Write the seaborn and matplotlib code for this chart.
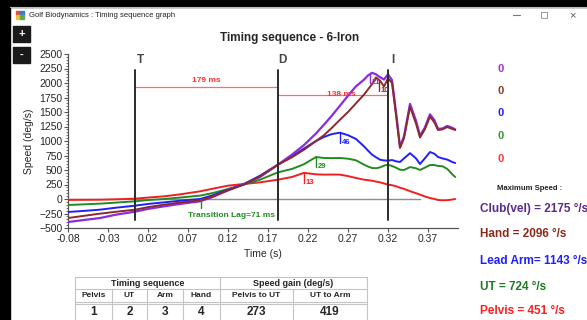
import numpy as np
import pandas as pd
import seaborn as sns
import matplotlib.pyplot as plt
from matplotlib.patches import Rectangle
from matplotlib.ticker import MultipleLocator

sns.set_style("ticks")
plt.rcParams["font.family"] = ["Liberation Sans", "DejaVu Sans"]

# ---- data ----
time_s = [-0.08, -0.06, -0.04, -0.02, 0.004, 0.02, 0.04, 0.06, 0.085, 0.10,
          0.12, 0.14, 0.16, 0.1825, 0.20, 0.215, 0.23, 0.24, 0.25, 0.26,
          0.27, 0.28, 0.29, 0.295, 0.30, 0.305, 0.31, 0.315, 0.32, 0.325,
          0.33, 0.335, 0.34, 0.3475, 0.355, 0.36, 0.366, 0.3725, 0.378, 0.3825,
          0.388, 0.394, 0.40, 0.404]

pelvis = [-15, -14, -12, -5, 6, 25, 46, 80, 132, 175,
          230, 259, 287, 333, 380, 451, 425, 420, 422, 420,
          395, 362, 333, 325, 316, 300, 287, 268, 247, 238,
          220, 195, 175, 135, 100, 75, 45, 17, 0, -17,
          -22, -20, -10, 0]

ut = [-103, -92, -80, -62, -40, -18, 0, 25, 58, 100,
      172, 250, 333, 460, 518, 600, 724, 707, 705, 707,
      695, 667, 592, 560, 535, 530, 545, 575, 592, 569,
      540, 505, 500, 550, 530, 500, 540, 586, 585, 570,
      565, 520, 430, 379]

lead_arm = [-224, -205, -184, -150, -115, -85, -58, -30, 0, 60,
            161, 260, 402, 592, 736, 870, 1000, 1070, 1120, 1143,
            1100, 1035, 908, 835, 765, 720, 678, 665, 661, 672,
            650, 638, 700, 790, 700, 603, 700, 810, 780, 724,
            700, 680, 640, 620]

hand = [-328, -290, -253, -220, -184, -140, -98, -60, -23, 40,
        150, 250, 391, 592, 720, 850, 1000, 1100, 1230, 1367,
        1500, 1650, 1800, 1890, 1980, 2096, 2040, 1940, 2080, 2000,
        1450, 880, 1050, 1590, 1300, 1060, 1200, 1420, 1320, 1190,
        1200, 1240, 1210, 1190]

club = [-397, -362, -328, -270, -218, -170, -127, -85, -40, 30,
        150, 255, 380, 592, 765, 930, 1130, 1282, 1440, 1610,
        1780, 1943, 2058, 2130, 2175, 2150, 2100, 2060, 2150, 2050,
        1500, 900, 1080, 1640, 1350, 1090, 1230, 1460, 1360, 1210,
        1215, 1260, 1230, 1200]

series_names = ["Pelvis", "UT", "Lead Arm", "Club", "Hand"]
colors = {"Pelvis": "#f02020", "UT": "#228b22", "Lead Arm": "#1f1fff",
          "Club": "#8a2be2", "Hand": "#8b2a2a"}
text_colors = ["#5b2a8e", "#8b2a1a", "#1f1fff", "#1f7a1f", "#ff1e1e"]

events = {"T": 0.004, "D": 0.1825, "I": 0.32}
peak_labels = [("21", 0.298, 2175, "Club"), ("10", 0.309, 2040, "Hand"),
               ("46", 0.26, 1143, "Lead Arm"), ("29", 0.23, 724, "UT"),
               ("13", 0.215, 451, "Pelvis")]
max_speed = ["Club(vel) = 2175 \u00b0/s", "Hand = 2096 \u00b0/s",
             "Lead Arm= 1143 \u00b0/s", "UT = 724 \u00b0/s", "Pelvis = 451 \u00b0/s"]
seq_cols = ["Pelvis", "UT", "Arm", "Hand", "Pelvis to UT", "UT to Arm"]
seq_vals = ["1", "2", "3", "4", "273", "419"]

df = pd.concat([
    pd.DataFrame({"t": time_s, "speed": v, "segment": n})
    for n, v in zip(series_names, [pelvis, ut, lead_arm, club, hand])
])

W, H = 587, 320
fig = plt.figure(figsize=(W / 100, H / 100), dpi=100)
fig.patch.set_facecolor("white")

ax = fig.add_axes([68 / W, 1 - 228 / H, (458 - 68) / W, (228 - 54) / H])
ax.set_facecolor("white")

ax.plot([-0.08, 0.36], [0, 0], color="#8c8c8c", lw=1, zorder=1)

for name in series_names:
    sns.lineplot(data=df[df["segment"] == name], x="t", y="speed", sort=False,
                 color=colors[name], lw=1.4 if name != "Club" else 1.6,
                 ax=ax, legend=False, zorder=3)

for lab, tx in events.items():
    ax.plot([tx, tx], [-360, 2230], color="#2b2b2b", lw=1.4, zorder=4)
    ax.text(tx + 0.006, 2390, lab, ha="center", va="center", fontsize=8.5,
            fontweight="bold", color="#444444")

# time between events
ax.plot([events["T"], events["D"]], [1930, 1930], color="#ff6b6b", lw=0.9, zorder=2)
ax.text((events["T"] + events["D"]) / 2, 1990, "179 ms", color="#ff3030",
        fontsize=6, fontweight="bold", ha="center", va="bottom")
ax.plot([events["D"], events["I"]], [1800, 1800], color="#ff6b6b", lw=0.9, zorder=2)
ax.text(0.262, 1800, "138 ms", color="#ff3030", fontsize=6,
        fontweight="bold", ha="center", va="center", zorder=5)

for lab, tx, ty, name in peak_labels:
    ax.plot([tx, tx], [ty, ty - 180], color=colors[name], lw=1, zorder=5)
    ax.text(tx + 0.002, ty - 110, lab, color=colors[name], fontsize=5.5,
            fontweight="bold", ha="left", va="top", zorder=5)

# transition lag marker
ax.plot([0.086, 0.086], [0, -150], color="#228b22", lw=1, zorder=5)
ax.text(0.124, -290, "Transition Lag=71 ms", color="#228b22", fontsize=6,
        fontweight="bold", ha="center", va="center")

ax.set_xlim(-0.08, 0.4075)
ax.set_ylim(-500, 2500)
ax.set_xticks(np.round(np.arange(-0.08, 0.40, 0.05), 2))
ax.set_xticklabels([f"{v:.2f}" for v in np.arange(-0.08, 0.40, 0.05)])
ax.yaxis.set_major_locator(MultipleLocator(250))
ax.yaxis.set_minor_locator(MultipleLocator(50))
ax.tick_params(axis="both", labelsize=7.5, length=3, width=0.8,
               color="#555555", pad=1)
ax.tick_params(axis="y", which="minor", length=1.5, width=0.6, color="#555555")
sns.despine(ax=ax)
for s in ["left", "bottom"]:
    ax.spines[s].set_color("#555555")
    ax.spines[s].set_linewidth(0.9)
ax.set_xlabel("Time (s)", fontsize=7.5, labelpad=4)
ax.set_ylabel("Speed (deg/s)", fontsize=7.5, labelpad=4)

# ---- window chrome and side panels, in pixel coordinates ----
ov = fig.add_axes([0, 0, 1, 1], zorder=10)
ov.set_xlim(0, W)
ov.set_ylim(H, 0)
ov.axis("off")

ov.add_patch(Rectangle((0, 0), W, 6.5, color="black"))
ov.add_patch(Rectangle((0, 0), 10, H, color="black"))
ov.plot([10, W], [7, 7], color="#9cc3e8", lw=0.8)
ov.add_patch(Rectangle((16, 11), 4, 4, color="#e84c3d"))
ov.add_patch(Rectangle((20, 11), 4, 4, color="#3b78d8"))
ov.add_patch(Rectangle((16, 15), 4, 4, color="#f1c232"))
ov.add_patch(Rectangle((20, 15), 4, 4, color="#6aa84f"))
ov.text(29, 15.5, "Golf Biodynamics : Timing sequence graph", fontsize=5.5,
        va="center", ha="left", color="#222222")
ov.plot([513, 520], [15, 15], color="#777777", lw=0.8)
ov.add_patch(Rectangle((541, 11.5), 6, 6, fill=False, ec="#999999", lw=0.7))
ov.text(572, 15, "\u00d7", fontsize=8, ha="center", va="center", color="#555555")

ov.add_patch(Rectangle((13, 26), 17, 16, color="#1a1a1a"))
ov.text(21.5, 34, "+", color="white", fontsize=8, fontweight="bold",
        ha="center", va="center")
ov.add_patch(Rectangle((13, 47), 17, 16, color="#1a1a1a"))
ov.text(21.5, 55, "-", color="white", fontsize=8, fontweight="bold",
        ha="center", va="center")

ov.text(290, 38, "Timing sequence - 6-Iron", fontsize=8.5, fontweight="bold",
        ha="center", va="center")

zero_y = [69, 91, 113, 136, 159]
zero_colors = ["#a030d0", "#8b3a1a", "#2020ff", "#3a9a3a", "#ff3030"]
for yy, cc in zip(zero_y, zero_colors):
    ov.text(501, yy, "0", color=cc, fontsize=8, fontweight="bold",
            ha="center", va="center")

ov.text(530, 189, "Maximum Speed :", fontsize=5.5, fontweight="bold",
        ha="center", va="center", color="#222222")
for yy, txt, cc in zip([209, 234, 261, 287, 311], max_speed, text_colors):
    ov.text(480, yy, txt, color=cc, fontsize=8.5, fontweight="bold",
            ha="left", va="center")

# sequence table
grid = "#c4c4c4"
x_edges = [75, 112, 147, 183, 220, 293, 367]
ov.plot([75, 367], [277, 277], color=grid, lw=0.8)
ov.plot([75, 367], [289, 289], color=grid, lw=0.8)
ov.plot([75, 367], [302, 302], color=grid, lw=0.8)
ov.plot([75, 367], [304, 304], color=grid, lw=0.8)
for xe in [75, 220, 367]:
    ov.plot([xe, xe], [277, 320], color=grid, lw=0.8)
for xe in x_edges[1:4] + [x_edges[5]]:
    ov.plot([xe, xe], [289, 320], color=grid, lw=0.8)
ov.text(147.5, 283, "Timing sequence", fontsize=6.5, fontweight="bold",
        ha="center", va="center")
ov.text(293.5, 283, "Speed gain (deg/s)", fontsize=6.5, fontweight="bold",
        ha="center", va="center")
for i, (c, v) in enumerate(zip(seq_cols, seq_vals)):
    xc = (x_edges[i] + x_edges[i + 1]) / 2
    ov.text(xc, 295.5, c, fontsize=6, fontweight="bold", ha="center", va="center")
    ov.text(xc, 312, v, fontsize=8.5, fontweight="bold", ha="center", va="center")

fig.savefig("out.png", dpi=100)
